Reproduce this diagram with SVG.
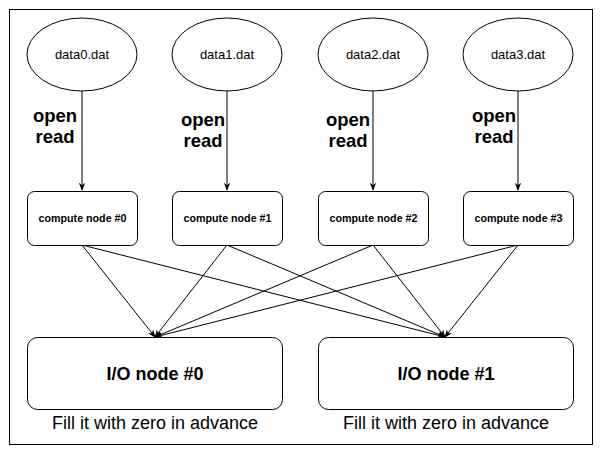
<svg xmlns="http://www.w3.org/2000/svg" width="602" height="455" viewBox="0 0 602 455">
<style>
.s{fill:#fff;stroke:#000;stroke-width:1}
.e{fill:none;stroke:#000;stroke-width:1}
.t{font-family:"Liberation Sans",Arial,sans-serif;fill:#000;text-anchor:middle}
.f{font-size:13px}
.c{font-size:10.7px;font-weight:bold}
.l{font-size:18.5px;font-weight:bold}
.io{font-size:18px;font-weight:bold}
.cap{font-size:18px}
</style>
<defs>
<marker id="a" viewBox="0 0 10 10" refX="9" refY="5" markerWidth="8" markerHeight="8" markerUnits="userSpaceOnUse" orient="auto">
<path d="M0,1 L10,5 L0,9 L3,5 Z" fill="#000"/>
</marker>
</defs>
<rect x="9.5" y="9.5" width="583" height="435" fill="#fff" stroke="#000"/>
<g id="connectors">
<line class="e" x1="82" y1="91" x2="82" y2="190" marker-end="url(#a)"/>
<line class="e" x1="227" y1="91" x2="227" y2="190" marker-end="url(#a)"/>
<line class="e" x1="373" y1="91" x2="373" y2="190" marker-end="url(#a)"/>
<line class="e" x1="518" y1="91" x2="518" y2="190" marker-end="url(#a)"/>
<line class="e" x1="82" y1="245" x2="155" y2="337" marker-end="url(#a)"/>
<line class="e" x1="227" y1="245" x2="155" y2="337" marker-end="url(#a)"/>
<line class="e" x1="373" y1="245" x2="155" y2="337" marker-end="url(#a)"/>
<line class="e" x1="518" y1="245" x2="155" y2="337" marker-end="url(#a)"/>
<line class="e" x1="82" y1="245" x2="445" y2="337" marker-end="url(#a)"/>
<line class="e" x1="227" y1="245" x2="445" y2="337" marker-end="url(#a)"/>
<line class="e" x1="373" y1="245" x2="445" y2="337" marker-end="url(#a)"/>
<line class="e" x1="518" y1="245" x2="445" y2="337" marker-end="url(#a)"/>
<text class="t l" x="55" y="122">open</text>
<text class="t l" x="55" y="143">read</text>
<text class="t l" x="203" y="126">open</text>
<text class="t l" x="203" y="147">read</text>
<text class="t l" x="348" y="126">open</text>
<text class="t l" x="348" y="147">read</text>
<text class="t l" x="494" y="122">open</text>
<text class="t l" x="494" y="143">read</text>
</g>
<g id="data0"><ellipse class="s" cx="82" cy="54.5" rx="55" ry="36.5"/><text class="t f" x="82" y="59">data0.dat</text></g>
<g id="data1"><ellipse class="s" cx="227" cy="54.5" rx="55" ry="36.5"/><text class="t f" x="227" y="59">data1.dat</text></g>
<g id="data2"><ellipse class="s" cx="373" cy="54.5" rx="55" ry="36.5"/><text class="t f" x="373" y="59">data2.dat</text></g>
<g id="data3"><ellipse class="s" cx="518" cy="54.5" rx="55" ry="36.5"/><text class="t f" x="518" y="59">data3.dat</text></g>
<g id="compute0"><rect class="s" x="27.5" y="191.5" width="110" height="54" rx="7"/><text class="t c" x="82.5" y="222">compute node #0</text></g>
<g id="compute1"><rect class="s" x="172.5" y="191.5" width="110" height="54" rx="7"/><text class="t c" x="227.5" y="222">compute node #1</text></g>
<g id="compute2"><rect class="s" x="318.5" y="191.5" width="110" height="54" rx="7"/><text class="t c" x="373.5" y="222">compute node #2</text></g>
<g id="compute3"><rect class="s" x="463.5" y="191.5" width="110" height="54" rx="7"/><text class="t c" x="518.5" y="222">compute node #3</text></g>
<g id="io0"><rect class="s" x="27.5" y="337.5" width="255" height="72" rx="10"/><text class="t io" x="155" y="380">I/O node #0</text><text class="t cap" x="155" y="429">Fill it with zero in advance</text></g>
<g id="io1"><rect class="s" x="318.5" y="337.5" width="255" height="72" rx="10"/><text class="t io" x="446" y="380">I/O node #1</text><text class="t cap" x="446" y="429">Fill it with zero in advance</text></g>
</svg>
